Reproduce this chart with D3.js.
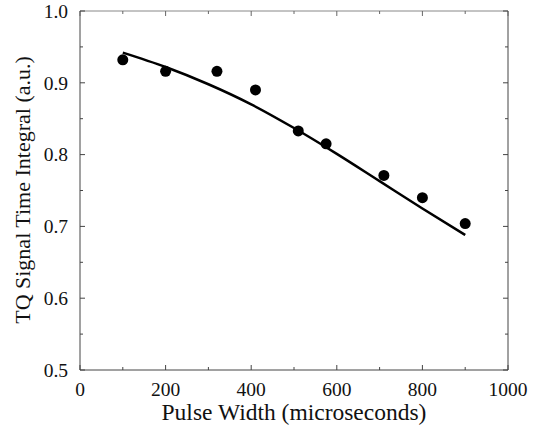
<!DOCTYPE html>
<html lang="en">
<head>
  <meta charset="UTF-8">
  <title>TQ Signal</title>
  <script src="https://d3js.org/d3.v7.min.js"></script>
  <style>
    body { margin: 0; background: #fff; }
    text { font-family: "Liberation Serif", "DejaVu Serif", serif; fill: #111; }
  </style>
</head>
<body>
  <div id="chart"></div>
  <script>
    // measured points
    var pulseWidth = [100, 200, 320, 410, 510, 575, 710, 800, 900];
    var tqSignal = [0.932, 0.916, 0.916, 0.890, 0.833, 0.815, 0.771, 0.740, 0.704];
    // fitted curve
    var fitX = [100, 200, 300, 400, 500, 600, 700, 800, 900];
    var fitY = [0.942, 0.922, 0.898, 0.870, 0.837, 0.801, 0.763, 0.725, 0.688];
    var xTicks = [0, 200, 400, 600, 800, 1000];
    var yTicks = [0.5, 0.6, 0.7, 0.8, 0.9, 1.0];

    var width = 550, height = 427;
    var margin = {top: 11, right: 42, bottom: 57, left: 80};
    var w = width - margin.left - margin.right;
    var h = height - margin.top - margin.bottom;

    var svg = d3.select("#chart").append("svg")
      .attr("width", width)
      .attr("height", height);

    var g = svg.append("g")
      .attr("transform", "translate(" + margin.left + "," + margin.top + ")");

    var x = d3.scaleLinear().domain([0, 1000]).range([0, w]);
    var y = d3.scaleLinear().domain([0.5, 1.0]).range([h, 0]);

    // frame (top edge is faint in the scan)
    g.append("line").attr("x1", 0).attr("x2", w).attr("y1", 0).attr("y2", 0)
      .attr("stroke", "#888");
    g.append("line").attr("x1", 0).attr("x2", w).attr("y1", h).attr("y2", h)
      .attr("stroke", "#444");
    g.append("line").attr("x1", 0).attr("x2", 0).attr("y1", 0).attr("y2", h)
      .attr("stroke", "#444");
    g.append("line").attr("x1", w).attr("x2", w).attr("y1", 0).attr("y2", h)
      .attr("stroke", "#444");

    var minorX = d3.range(0, 1001, 100);
    var minorY = d3.range(0.5, 1.001, 0.05);

    // inward ticks on all four sides
    function tickLen(v, major) { return major ? 5 : 3; }
    var isMajorX = function(d) { return d % 200 === 0; };
    var isMajorY = function(d) { return Math.abs(Math.round(d * 10) - d * 10) < 1e-6; };

    g.selectAll(".tbx").data(minorX).join("line")
      .attr("x1", x).attr("x2", x)
      .attr("y1", h).attr("y2", function(d) { return h - tickLen(d, isMajorX(d)); })
      .attr("stroke", "#444");
    g.selectAll(".ttx").data(minorX).join("line")
      .attr("x1", x).attr("x2", x)
      .attr("y1", 0).attr("y2", function(d) { return tickLen(d, isMajorX(d)); })
      .attr("stroke", "#666");
    g.selectAll(".tly").data(minorY).join("line")
      .attr("y1", y).attr("y2", y)
      .attr("x1", 0).attr("x2", function(d) { return tickLen(d, isMajorY(d)); })
      .attr("stroke", "#444");
    g.selectAll(".try").data(minorY).join("line")
      .attr("y1", y).attr("y2", y)
      .attr("x1", w).attr("x2", function(d) { return w - tickLen(d, isMajorY(d)); })
      .attr("stroke", "#444");

    // tick labels
    g.selectAll(".xl").data(xTicks).join("text")
      .attr("x", x).attr("y", h + 26)
      .attr("text-anchor", "middle")
      .style("font-size", "19.5px")
      .text(function(d) { return d; });
    g.selectAll(".yl").data(yTicks).join("text")
      .attr("x", -12).attr("y", y).attr("dy", "0.35em")
      .attr("text-anchor", "end")
      .style("font-size", "19.5px")
      .text(d3.format(".1f"));

    // axis titles
    svg.append("text")
      .attr("x", margin.left + w / 2).attr("y", 420)
      .attr("text-anchor", "middle")
      .style("font-size", "23.5px")
      .text("Pulse Width (microseconds)");
    svg.append("text")
      .attr("transform", "translate(30," + 190 + ") rotate(-90)")
      .attr("text-anchor", "middle")
      .style("font-size", "22px")
      .text("TQ Signal Time Integral (a.u.)");

    // fit line
    var fit = fitX.map(function(d, i) { return {x: d, y: fitY[i]}; });
    g.append("path")
      .datum(fit)
      .attr("fill", "none")
      .attr("stroke", "#000")
      .attr("stroke-width", 2.5)
      .attr("d", d3.line().curve(d3.curveMonotoneX)
        .x(function(d) { return x(d.x); })
        .y(function(d) { return y(d.y); }));

    // data points
    g.selectAll(".dot").data(pulseWidth).join("circle")
      .attr("cx", x)
      .attr("cy", function(d, i) { return y(tqSignal[i]); })
      .attr("r", 5.5)
      .attr("fill", "#000");
  </script>
</body>
</html>
